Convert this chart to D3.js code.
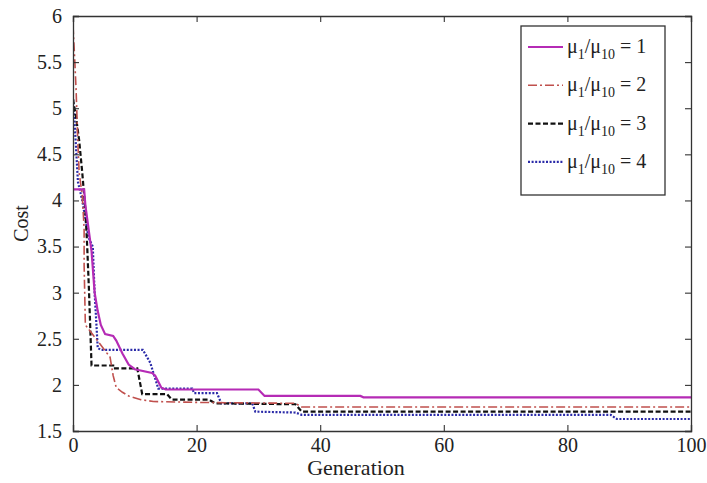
<!DOCTYPE html>
<html>
<head>
<meta charset="utf-8">
<script src="https://cdn.jsdelivr.net/npm/d3@7"></script>
<style>
  html, body { margin: 0; padding: 0; background: #fff; }
  svg { display: block; }
  text { font-family: "Liberation Serif", "Times New Roman", serif; fill: #222; }
</style>
</head>
<body>
<svg id="chart" width="707" height="483"></svg>
<script>
// Convergence of the best cost per generation for four μ1/μ10 ratios
const ratios = [1, 2, 3, 4];

const gen1  = [0, 1.8, 2, 3, 3.5, 4, 4.5, 5.2, 6.5, 7, 8, 9, 10, 12.8, 13.3, 14.3, 15, 30, 31, 46.5, 47, 100];
const cost1 = [4.12, 4.12, 3.95, 3.45, 3.0, 2.8, 2.65, 2.55, 2.53, 2.48, 2.34, 2.22, 2.17, 2.13, 2.1, 1.97, 1.95, 1.95, 1.88, 1.88, 1.865, 1.865];

const gen2  = [0, 0.3, 0.5, 0.8, 1, 1.5, 1.8, 1.8, 2, 6, 6.5, 7, 8, 9, 11, 13, 20, 36, 37, 100];
const cost2 = [5.9, 5.5, 5.2, 4.6, 4.3, 4.05, 3.7, 3.3, 2.65, 2.3, 2.1, 1.97, 1.92, 1.88, 1.84, 1.82, 1.81, 1.8, 1.76, 1.76];

const gen3  = [0, 0.5, 1, 1.5, 2, 2.3, 2.6, 3, 6.5, 6.5, 10.4, 11.2, 15.2, 16, 22, 23, 36, 37, 100];
const cost3 = [5.1, 4.9, 4.65, 4.3, 3.9, 3.5, 3.0, 2.21, 2.21, 2.18, 2.18, 1.9, 1.9, 1.84, 1.84, 1.8, 1.79, 1.71, 1.71];

const gen4  = [0, 0.3, 0.8, 1.5, 2.5, 3.2, 3.5, 4, 4.5, 11.3, 12, 12.5, 13.8, 19.3, 19.6, 23.3, 24, 29, 29.5, 36, 37, 87, 88, 100];
const cost4 = [5.1, 4.8, 4.2, 4.0, 3.6, 3.5, 3.0, 2.4, 2.38, 2.38, 2.3, 2.24, 1.96, 1.96, 1.91, 1.91, 1.8, 1.8, 1.71, 1.7, 1.675, 1.675, 1.63, 1.63];

const seriesGen  = [gen1, gen2, gen3, gen4];
const seriesCost = [cost1, cost2, cost3, cost4];
const colors = ["#b52bb5", "#c0504d", "#111111", "#2a2aa8"];
const dashes = [null, "9,3,2,3", "5,2.5", "2,1.6"];
const widths = [2.2, 1.6, 2.2, 2.2];

const xTicks = [0, 20, 40, 60, 80, 100];
const yTicks = [1.5, 2, 2.5, 3, 3.5, 4, 4.5, 5, 5.5, 6];

const svg = d3.select("#chart");
const m = { left: 73, right: 691, top: 16, bottom: 431 };

const x = d3.scaleLinear().domain([0, 100]).range([m.left, m.right]);
const y = d3.scaleLinear().domain([1.5, 6]).range([m.bottom, m.top]);

// curves
const line = d3.line().x(d => x(d[0])).y(d => y(d[1]));
const plot = svg.append("g");
plot.append("clipPath").attr("id", "clip")
  .append("rect").attr("x", m.left).attr("y", m.top)
  .attr("width", m.right - m.left).attr("height", m.bottom - m.top);
const curves = plot.append("g").attr("clip-path", "url(#clip)");
// draw in reverse so the solid curve stays on top
[3, 2, 1, 0].forEach(i => {
  const pts = seriesGen[i].map((g, k) => [g, seriesCost[i][k]]);
  curves.append("path")
    .attr("d", line(pts))
    .attr("fill", "none")
    .attr("stroke", colors[i])
    .attr("stroke-width", widths[i])
    .attr("stroke-dasharray", dashes[i]);
});

// axes (box with inward ticks on all four sides)
const tickLen = 6;
const axisColor = "#333";
const fontSize = 20;

const gx = svg.append("g").attr("transform", `translate(0,${m.bottom})`)
  .call(d3.axisBottom(x).tickValues(xTicks).tickSize(-tickLen).tickPadding(10).tickFormat(d3.format("d")));
const gxTop = svg.append("g").attr("transform", `translate(0,${m.top})`)
  .call(d3.axisTop(x).tickValues(xTicks).tickSize(-tickLen).tickFormat(""));
const gy = svg.append("g").attr("transform", `translate(${m.left},0)`)
  .call(d3.axisLeft(y).tickValues(yTicks).tickSize(-tickLen).tickPadding(10).tickFormat(d => d3.format("")(d)));
const gyRight = svg.append("g").attr("transform", `translate(${m.right},0)`)
  .call(d3.axisRight(y).tickValues(yTicks).tickSize(-tickLen).tickFormat(""));

[gx, gxTop, gy, gyRight].forEach(g => {
  g.select(".domain").attr("stroke", axisColor).attr("stroke-width", 1.3);
  g.selectAll(".tick line").attr("stroke", axisColor).attr("stroke-width", 1.1);
  g.selectAll("text").attr("font-family", "Liberation Serif, serif").attr("font-size", fontSize).attr("fill", "#222");
});
gx.selectAll(".tick text").attr("dy", "0.55em");
gy.selectAll(".tick text").attr("dx", "-0.05em");

// axis titles
svg.append("text").attr("x", (m.left + m.right) / 2 - 26).attr("y", 475)
  .attr("text-anchor", "middle").attr("font-size", 22).text("Generation");
svg.append("text").attr("transform", `translate(28,${(m.top + m.bottom) / 2}) rotate(-90)`)
  .attr("text-anchor", "middle").attr("font-size", 20).text("Cost");

// legend
const lg = svg.append("g");
lg.append("rect").attr("x", 521).attr("y", 26).attr("width", 144).attr("height", 169)
  .attr("fill", "#fff").attr("stroke", axisColor).attr("stroke-width", 1.3);
ratios.forEach((r, i) => {
  const yy = 47 + i * 38.3;
  lg.append("line").attr("x1", 528).attr("x2", 563).attr("y1", yy).attr("y2", yy)
    .attr("stroke", colors[i]).attr("stroke-width", widths[i]).attr("stroke-dasharray", dashes[i]);
  const t = lg.append("text").attr("x", 567).attr("y", yy + 6).attr("font-size", 20);
  t.append("tspan").text("μ");
  t.append("tspan").attr("font-size", 14).attr("dy", 6).text("1");
  t.append("tspan").attr("dy", -6).text("/μ");
  t.append("tspan").attr("font-size", 14).attr("dy", 6).text("10");
  t.append("tspan").attr("dy", -6).text(" = " + r);
});
</script>
</body>
</html>
